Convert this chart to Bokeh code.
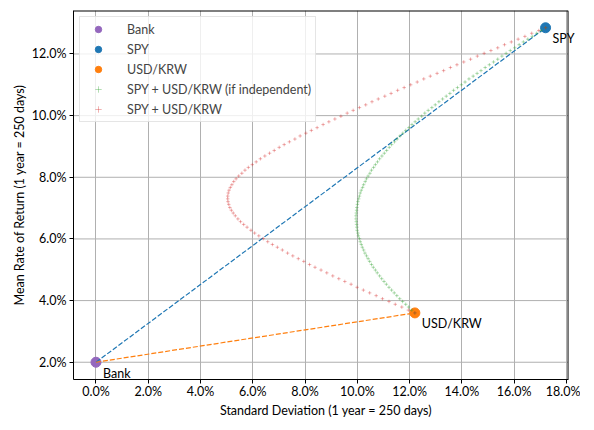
from bokeh.plotting import figure
from bokeh.models import Legend, LegendItem, FixedTicker, PrintfTickFormatter, Range1d, Label
from bokeh.embed import file_html
from bokeh.resources import INLINE

# single assets: name, standard deviation (%), mean return (%)
names = ["Bank", "SPY", "USD/KRW"]
asset_std = [0.0, 17.2, 12.2]
asset_mean = [2.0, 12.85, 3.6]
asset_colors = ["#9467bd", "#1f77b4", "#ff7f0e"]

# SPY + USD/KRW mixes (mean return is shared by both curves)
mix_mean = [
    3.60, 3.69, 3.79, 3.88, 3.97, 4.06, 4.16, 4.25, 4.34, 4.43,
    4.53, 4.62, 4.71, 4.80, 4.90, 4.99, 5.08, 5.17, 5.27, 5.36,
    5.45, 5.54, 5.64, 5.73, 5.82, 5.91, 6.01, 6.10, 6.19, 6.28,
    6.38, 6.47, 6.56, 6.65, 6.75, 6.84, 6.93, 7.02, 7.12, 7.21,
    7.30, 7.39, 7.49, 7.58, 7.67, 7.76, 7.86, 7.95, 8.04, 8.13,
    8.23, 8.32, 8.41, 8.50, 8.60, 8.69, 8.78, 8.87, 8.97, 9.06,
    9.15, 9.24, 9.34, 9.43, 9.52, 9.61, 9.71, 9.80, 9.89, 9.98,
    10.08, 10.17, 10.26, 10.35, 10.45, 10.54, 10.63, 10.72, 10.82, 10.91,
    11.00, 11.09, 11.19, 11.28, 11.37, 11.46, 11.56, 11.65, 11.74, 11.83,
    11.93, 12.02, 12.11, 12.20, 12.30, 12.39, 12.48, 12.57, 12.67, 12.76,
    12.85,
]
indep_std = [
    12.20, 12.08, 11.96, 11.85, 11.73, 11.62, 11.51, 11.41, 11.31, 11.21,
    11.11, 11.02, 10.93, 10.85, 10.76, 10.69, 10.61, 10.54, 10.47, 10.41,
    10.35, 10.29, 10.24, 10.19, 10.15, 10.11, 10.08, 10.04, 10.02, 9.99,
    9.98, 9.97, 9.96, 9.95, 9.95, 9.96, 9.97, 9.98, 10.00, 10.02,
    10.05, 10.08, 10.11, 10.15, 10.20, 10.24, 10.30, 10.35, 10.41, 10.48,
    10.54, 10.62, 10.69, 10.77, 10.85, 10.94, 11.03, 11.12, 11.22, 11.31,
    11.42, 11.52, 11.63, 11.74, 11.85, 11.97, 12.09, 12.21, 12.33, 12.46,
    12.58, 12.71, 12.85, 12.98, 13.12, 13.26, 13.40, 13.54, 13.68, 13.83,
    13.98, 14.12, 14.27, 14.43, 14.58, 14.73, 14.89, 15.05, 15.21, 15.37,
    15.53, 15.69, 15.85, 16.02, 16.19, 16.35, 16.52, 16.69, 16.86, 17.03,
    17.20,
]
mix_std = [
    12.20, 11.95, 11.70, 11.45, 11.21, 10.96, 10.72, 10.47, 10.23, 9.99,
    9.76, 9.52, 9.29, 9.06, 8.83, 8.61, 8.38, 8.17, 7.95, 7.74,
    7.53, 7.33, 7.13, 6.94, 6.75, 6.57, 6.40, 6.23, 6.07, 5.93,
    5.78, 5.65, 5.53, 5.43, 5.33, 5.25, 5.18, 5.12, 5.08, 5.05,
    5.04, 5.04, 5.06, 5.09, 5.14, 5.20, 5.27, 5.36, 5.46, 5.58,
    5.70, 5.83, 5.98, 6.13, 6.29, 6.46, 6.64, 6.82, 7.01, 7.20,
    7.40, 7.61, 7.81, 8.03, 8.24, 8.46, 8.69, 8.91, 9.14, 9.37,
    9.61, 9.84, 10.08, 10.32, 10.56, 10.80, 11.05, 11.29, 11.54, 11.79,
    12.04, 12.29, 12.54, 12.79, 13.05, 13.30, 13.56, 13.81, 14.07, 14.33,
    14.59, 14.85, 15.11, 15.37, 15.63, 15.89, 16.15, 16.41, 16.67, 16.94,
    17.20,
]

x_ticks = [0, 2, 4, 6, 8, 10, 12, 14, 16, 18]
y_ticks = [2, 4, 6, 8, 10, 12]

FONT = "Lato"
FSIZE = "12.5px"

# axes box in data units; the canvas runs a little further right so the SPY label is not cut
x0, x1 = -0.86, 18.06
y0, y1 = 1.44, 13.41
x_extra = 0.4

p = figure(frame_width=505, frame_height=369, output_backend="svg", toolbar_location=None,
           x_range=Range1d(x0, x1 + x_extra), y_range=Range1d(y0, y1),
           min_border_left=73, min_border_right=2, min_border_top=10, min_border_bottom=10)

p.outline_line_color = None
p.xgrid.grid_line_color = "#b0b0b0"
p.xgrid.grid_line_alpha = 1
p.ygrid.grid_line_color = None
p.segment(x0=[x0] * len(y_ticks), x1=[x1] * len(y_ticks), y0=y_ticks, y1=y_ticks,
          line_color="#b0b0b0", line_width=1, level="underlay")
# top and right edges of the axes box
p.line([x0, x1], [y1, y1], line_color="black", line_width=2)
p.line([x1, x1], [y0, y1], line_color="black", line_width=1)

p.xaxis.ticker = FixedTicker(ticks=x_ticks)
p.yaxis.ticker = FixedTicker(ticks=y_ticks)
p.xaxis.bounds = (x0, x1)
p.xaxis.formatter = PrintfTickFormatter(format="%.1f%%")
p.yaxis.formatter = PrintfTickFormatter(format="%.1f%%")
p.xaxis.axis_label = "Standard Deviation (1 year = 250 days)"
p.yaxis.axis_label = "Mean Rate of Return (1 year = 250 days)"
for ax in (p.xaxis[0], p.yaxis[0]):
    ax.axis_line_color = "black"
    ax.major_tick_line_color = "black"
    ax.major_tick_in = 0
    ax.major_tick_out = 4
    ax.minor_tick_line_color = None
    ax.major_label_text_font = FONT
    ax.major_label_text_font_size = FSIZE
    ax.major_label_text_color = "black"
    ax.axis_label_text_font = FONT
    ax.axis_label_text_font_size = FSIZE
    ax.axis_label_text_font_style = "normal"
    ax.axis_label_text_color = "black"
p.xaxis.major_label_standoff = 0
p.xaxis.axis_label_standoff = 1
p.yaxis.major_label_standoff = 3
p.yaxis.axis_label_standoff = 2

# asset points
point_renderers = []
for i in range(len(names)):
    r = p.scatter([asset_std[i]], [asset_mean[i]], size=10, color=asset_colors[i])
    point_renderers.append(r)

# bank -> asset dashed lines
p.line([asset_std[0], asset_std[1]], [asset_mean[0], asset_mean[1]],
       line_color=asset_colors[1], line_width=1.2, line_dash="5 2")
p.line([asset_std[0], asset_std[2]], [asset_mean[0], asset_mean[2]],
       line_color=asset_colors[2], line_width=1.2, line_dash="5 2")

r_ind = p.scatter(indep_std, mix_mean, marker="cross", size=3.5,
                  line_color="#2ca02c", line_alpha=0.4, line_width=0.9)
r_mix = p.scatter(mix_std, mix_mean, marker="cross", size=3.5,
                  line_color="#d62728", line_alpha=0.4, line_width=0.9)

for i in range(len(names)):
    p.add_layout(Label(x=asset_std[i], y=asset_mean[i], text=names[i], x_offset=7, y_offset=-11,
                       text_baseline="middle", text_align="left", text_font=FONT,
                       text_font_size=FSIZE, text_color="black"))

items = [LegendItem(label=names[i], renderers=[point_renderers[i]]) for i in range(len(names))]
items.append(LegendItem(label="SPY + USD/KRW (if independent)", renderers=[r_ind]))
items.append(LegendItem(label="SPY + USD/KRW", renderers=[r_mix]))
legend = Legend(items=items, location="top_left", margin=6, padding=4,
                glyph_width=28, glyph_height=16, spacing=4, label_standoff=15,
                label_text_font=FONT, label_text_font_size=FSIZE,
                border_line_color="#cccccc", background_fill_alpha=0.8)
p.add_layout(legend)

open("out.html", "w").write(file_html(p, INLINE))
